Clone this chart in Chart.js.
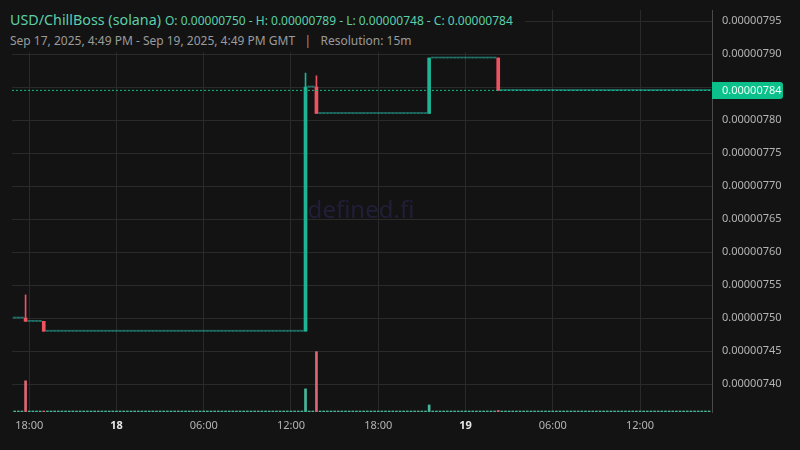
<!DOCTYPE html>
<html>
<head>
<meta charset="utf-8">
<script src="https://cdn.jsdelivr.net/npm/chart.js@4"></script>
<style>
  body { margin: 0; background: #131313; }
  #wrap { position: relative; width: 800px; height: 450px; }
  .head { position: absolute; left: 0; background: #131313; font-family: 'Noto Sans', sans-serif; white-space: nowrap; }
  #head1 { top: 8px; padding: 0 12px 0 10px; height: 23px; line-height: 23px; color: #5ccfa9; font-size: 14.3px; }
  #head1 .ohlc { font-size: 12px; margin-left: 4px; }
  #head2 { top: 31px; width: 520px; padding-left: 10px; height: 21px; line-height: 20px; color: #9b9b9b; font-size: 12px; }
</style>
</head>
<body>
<div id="wrap">
  <canvas id="chart" width="800" height="450"></canvas>
  <div class="head" id="head1">USD/ChillBoss (solana)<span class="ohlc" id="ohlc"></span></div>
  <div class="head" id="head2">Sep 17, 2025, 4:49 PM - Sep 19, 2025, 4:49 PM GMT &nbsp; | &nbsp; Resolution: 15m</div>
</div>
<script>
// 15m candles, Sep 17 17:00 -> Sep 19 16:45 GMT (x = minutes since Sep 17 00:00)
const firstCandle = 1020;
const candleStep = 15;
const rangeStart = 1009; // 16:49
const rangeEnd = 3889;   // 16:49 two days later
const rightGap = 8;      // small empty margin before the price axis

const opens = [
  7.50e-6, 7.50e-6, 7.50e-6, 7.50e-6, 7.495e-6, 7.495e-6, 7.495e-6, 7.495e-6, 7.495e-6, 7.48e-6, 7.48e-6, 7.48e-6, 7.48e-6, 7.48e-6, 7.48e-6, 7.48e-6,
  7.48e-6, 7.48e-6, 7.48e-6, 7.48e-6, 7.48e-6, 7.48e-6, 7.48e-6, 7.48e-6, 7.48e-6, 7.48e-6, 7.48e-6, 7.48e-6, 7.48e-6, 7.48e-6, 7.48e-6, 7.48e-6,
  7.48e-6, 7.48e-6, 7.48e-6, 7.48e-6, 7.48e-6, 7.48e-6, 7.48e-6, 7.48e-6, 7.48e-6, 7.48e-6, 7.48e-6, 7.48e-6, 7.48e-6, 7.48e-6, 7.48e-6, 7.48e-6,
  7.48e-6, 7.48e-6, 7.48e-6, 7.48e-6, 7.48e-6, 7.48e-6, 7.48e-6, 7.48e-6, 7.48e-6, 7.48e-6, 7.48e-6, 7.48e-6, 7.48e-6, 7.48e-6, 7.48e-6, 7.48e-6,
  7.48e-6, 7.48e-6, 7.48e-6, 7.48e-6, 7.48e-6, 7.48e-6, 7.48e-6, 7.48e-6, 7.48e-6, 7.48e-6, 7.48e-6, 7.48e-6, 7.48e-6, 7.48e-6, 7.48e-6, 7.48e-6,
  7.48e-6, 7.85e-6, 7.85e-6, 7.85e-6, 7.81e-6, 7.81e-6, 7.81e-6, 7.81e-6, 7.81e-6, 7.81e-6, 7.81e-6, 7.81e-6, 7.81e-6, 7.81e-6, 7.81e-6, 7.81e-6,
  7.81e-6, 7.81e-6, 7.81e-6, 7.81e-6, 7.81e-6, 7.81e-6, 7.81e-6, 7.81e-6, 7.81e-6, 7.81e-6, 7.81e-6, 7.81e-6, 7.81e-6, 7.81e-6, 7.81e-6, 7.81e-6,
  7.81e-6, 7.81e-6, 7.81e-6, 7.894e-6, 7.894e-6, 7.894e-6, 7.894e-6, 7.894e-6, 7.894e-6, 7.894e-6, 7.894e-6, 7.894e-6, 7.894e-6, 7.894e-6, 7.894e-6, 7.894e-6,
  7.894e-6, 7.894e-6, 7.894e-6, 7.894e-6, 7.894e-6, 7.894e-6, 7.8449e-6, 7.8449e-6, 7.8449e-6, 7.8449e-6, 7.8449e-6, 7.8449e-6, 7.8449e-6, 7.8449e-6, 7.8449e-6, 7.8449e-6,
  7.8449e-6, 7.8449e-6, 7.8449e-6, 7.8449e-6, 7.8449e-6, 7.8449e-6, 7.8449e-6, 7.8449e-6, 7.8449e-6, 7.8449e-6, 7.8449e-6, 7.8449e-6, 7.8449e-6, 7.8449e-6, 7.8449e-6, 7.8449e-6,
  7.8449e-6, 7.8449e-6, 7.8449e-6, 7.8449e-6, 7.8449e-6, 7.8449e-6, 7.8449e-6, 7.8449e-6, 7.8449e-6, 7.8449e-6, 7.8449e-6, 7.8449e-6, 7.8449e-6, 7.8449e-6, 7.8449e-6, 7.8449e-6,
  7.8449e-6, 7.8449e-6, 7.8449e-6, 7.8449e-6, 7.8449e-6, 7.8449e-6, 7.8449e-6, 7.8449e-6, 7.8449e-6, 7.8449e-6, 7.8449e-6, 7.8449e-6, 7.8449e-6, 7.8449e-6, 7.8449e-6, 7.8449e-6
];
const highs = [
  7.50e-6, 7.50e-6, 7.50e-6, 7.535e-6, 7.495e-6, 7.495e-6, 7.495e-6, 7.495e-6, 7.495e-6, 7.48e-6, 7.48e-6, 7.48e-6, 7.48e-6, 7.48e-6, 7.48e-6, 7.48e-6,
  7.48e-6, 7.48e-6, 7.48e-6, 7.48e-6, 7.48e-6, 7.48e-6, 7.48e-6, 7.48e-6, 7.48e-6, 7.48e-6, 7.48e-6, 7.48e-6, 7.48e-6, 7.48e-6, 7.48e-6, 7.48e-6,
  7.48e-6, 7.48e-6, 7.48e-6, 7.48e-6, 7.48e-6, 7.48e-6, 7.48e-6, 7.48e-6, 7.48e-6, 7.48e-6, 7.48e-6, 7.48e-6, 7.48e-6, 7.48e-6, 7.48e-6, 7.48e-6,
  7.48e-6, 7.48e-6, 7.48e-6, 7.48e-6, 7.48e-6, 7.48e-6, 7.48e-6, 7.48e-6, 7.48e-6, 7.48e-6, 7.48e-6, 7.48e-6, 7.48e-6, 7.48e-6, 7.48e-6, 7.48e-6,
  7.48e-6, 7.48e-6, 7.48e-6, 7.48e-6, 7.48e-6, 7.48e-6, 7.48e-6, 7.48e-6, 7.48e-6, 7.48e-6, 7.48e-6, 7.48e-6, 7.48e-6, 7.48e-6, 7.48e-6, 7.48e-6,
  7.871e-6, 7.85e-6, 7.85e-6, 7.867e-6, 7.81e-6, 7.81e-6, 7.81e-6, 7.81e-6, 7.81e-6, 7.81e-6, 7.81e-6, 7.81e-6, 7.81e-6, 7.81e-6, 7.81e-6, 7.81e-6,
  7.81e-6, 7.81e-6, 7.81e-6, 7.81e-6, 7.81e-6, 7.81e-6, 7.81e-6, 7.81e-6, 7.81e-6, 7.81e-6, 7.81e-6, 7.81e-6, 7.81e-6, 7.81e-6, 7.81e-6, 7.81e-6,
  7.81e-6, 7.81e-6, 7.894e-6, 7.894e-6, 7.894e-6, 7.894e-6, 7.894e-6, 7.894e-6, 7.894e-6, 7.894e-6, 7.894e-6, 7.894e-6, 7.894e-6, 7.894e-6, 7.894e-6, 7.894e-6,
  7.894e-6, 7.894e-6, 7.894e-6, 7.894e-6, 7.894e-6, 7.894e-6, 7.8449e-6, 7.8449e-6, 7.8449e-6, 7.8449e-6, 7.8449e-6, 7.8449e-6, 7.8449e-6, 7.8449e-6, 7.8449e-6, 7.8449e-6,
  7.8449e-6, 7.8449e-6, 7.8449e-6, 7.8449e-6, 7.8449e-6, 7.8449e-6, 7.8449e-6, 7.8449e-6, 7.8449e-6, 7.8449e-6, 7.8449e-6, 7.8449e-6, 7.8449e-6, 7.8449e-6, 7.8449e-6, 7.8449e-6,
  7.8449e-6, 7.8449e-6, 7.8449e-6, 7.8449e-6, 7.8449e-6, 7.8449e-6, 7.8449e-6, 7.8449e-6, 7.8449e-6, 7.8449e-6, 7.8449e-6, 7.8449e-6, 7.8449e-6, 7.8449e-6, 7.8449e-6, 7.8449e-6,
  7.8449e-6, 7.8449e-6, 7.8449e-6, 7.8449e-6, 7.8449e-6, 7.8449e-6, 7.8449e-6, 7.8449e-6, 7.8449e-6, 7.8449e-6, 7.8449e-6, 7.8449e-6, 7.8449e-6, 7.8449e-6, 7.8449e-6, 7.8449e-6
];
const lows = [
  7.50e-6, 7.50e-6, 7.50e-6, 7.495e-6, 7.495e-6, 7.495e-6, 7.495e-6, 7.495e-6, 7.48e-6, 7.48e-6, 7.48e-6, 7.48e-6, 7.48e-6, 7.48e-6, 7.48e-6, 7.48e-6,
  7.48e-6, 7.48e-6, 7.48e-6, 7.48e-6, 7.48e-6, 7.48e-6, 7.48e-6, 7.48e-6, 7.48e-6, 7.48e-6, 7.48e-6, 7.48e-6, 7.48e-6, 7.48e-6, 7.48e-6, 7.48e-6,
  7.48e-6, 7.48e-6, 7.48e-6, 7.48e-6, 7.48e-6, 7.48e-6, 7.48e-6, 7.48e-6, 7.48e-6, 7.48e-6, 7.48e-6, 7.48e-6, 7.48e-6, 7.48e-6, 7.48e-6, 7.48e-6,
  7.48e-6, 7.48e-6, 7.48e-6, 7.48e-6, 7.48e-6, 7.48e-6, 7.48e-6, 7.48e-6, 7.48e-6, 7.48e-6, 7.48e-6, 7.48e-6, 7.48e-6, 7.48e-6, 7.48e-6, 7.48e-6,
  7.48e-6, 7.48e-6, 7.48e-6, 7.48e-6, 7.48e-6, 7.48e-6, 7.48e-6, 7.48e-6, 7.48e-6, 7.48e-6, 7.48e-6, 7.48e-6, 7.48e-6, 7.48e-6, 7.48e-6, 7.48e-6,
  7.48e-6, 7.85e-6, 7.85e-6, 7.81e-6, 7.81e-6, 7.81e-6, 7.81e-6, 7.81e-6, 7.81e-6, 7.81e-6, 7.81e-6, 7.81e-6, 7.81e-6, 7.81e-6, 7.81e-6, 7.81e-6,
  7.81e-6, 7.81e-6, 7.81e-6, 7.81e-6, 7.81e-6, 7.81e-6, 7.81e-6, 7.81e-6, 7.81e-6, 7.81e-6, 7.81e-6, 7.81e-6, 7.81e-6, 7.81e-6, 7.81e-6, 7.81e-6,
  7.81e-6, 7.81e-6, 7.81e-6, 7.894e-6, 7.894e-6, 7.894e-6, 7.894e-6, 7.894e-6, 7.894e-6, 7.894e-6, 7.894e-6, 7.894e-6, 7.894e-6, 7.894e-6, 7.894e-6, 7.894e-6,
  7.894e-6, 7.894e-6, 7.894e-6, 7.894e-6, 7.894e-6, 7.8449e-6, 7.8449e-6, 7.8449e-6, 7.8449e-6, 7.8449e-6, 7.8449e-6, 7.8449e-6, 7.8449e-6, 7.8449e-6, 7.8449e-6, 7.8449e-6,
  7.8449e-6, 7.8449e-6, 7.8449e-6, 7.8449e-6, 7.8449e-6, 7.8449e-6, 7.8449e-6, 7.8449e-6, 7.8449e-6, 7.8449e-6, 7.8449e-6, 7.8449e-6, 7.8449e-6, 7.8449e-6, 7.8449e-6, 7.8449e-6,
  7.8449e-6, 7.8449e-6, 7.8449e-6, 7.8449e-6, 7.8449e-6, 7.8449e-6, 7.8449e-6, 7.8449e-6, 7.8449e-6, 7.8449e-6, 7.8449e-6, 7.8449e-6, 7.8449e-6, 7.8449e-6, 7.8449e-6, 7.8449e-6,
  7.8449e-6, 7.8449e-6, 7.8449e-6, 7.8449e-6, 7.8449e-6, 7.8449e-6, 7.8449e-6, 7.8449e-6, 7.8449e-6, 7.8449e-6, 7.8449e-6, 7.8449e-6, 7.8449e-6, 7.8449e-6, 7.8449e-6, 7.8449e-6
];
const closes = [
  7.50e-6, 7.50e-6, 7.50e-6, 7.495e-6, 7.495e-6, 7.495e-6, 7.495e-6, 7.495e-6, 7.48e-6, 7.48e-6, 7.48e-6, 7.48e-6, 7.48e-6, 7.48e-6, 7.48e-6, 7.48e-6,
  7.48e-6, 7.48e-6, 7.48e-6, 7.48e-6, 7.48e-6, 7.48e-6, 7.48e-6, 7.48e-6, 7.48e-6, 7.48e-6, 7.48e-6, 7.48e-6, 7.48e-6, 7.48e-6, 7.48e-6, 7.48e-6,
  7.48e-6, 7.48e-6, 7.48e-6, 7.48e-6, 7.48e-6, 7.48e-6, 7.48e-6, 7.48e-6, 7.48e-6, 7.48e-6, 7.48e-6, 7.48e-6, 7.48e-6, 7.48e-6, 7.48e-6, 7.48e-6,
  7.48e-6, 7.48e-6, 7.48e-6, 7.48e-6, 7.48e-6, 7.48e-6, 7.48e-6, 7.48e-6, 7.48e-6, 7.48e-6, 7.48e-6, 7.48e-6, 7.48e-6, 7.48e-6, 7.48e-6, 7.48e-6,
  7.48e-6, 7.48e-6, 7.48e-6, 7.48e-6, 7.48e-6, 7.48e-6, 7.48e-6, 7.48e-6, 7.48e-6, 7.48e-6, 7.48e-6, 7.48e-6, 7.48e-6, 7.48e-6, 7.48e-6, 7.48e-6,
  7.85e-6, 7.85e-6, 7.85e-6, 7.81e-6, 7.81e-6, 7.81e-6, 7.81e-6, 7.81e-6, 7.81e-6, 7.81e-6, 7.81e-6, 7.81e-6, 7.81e-6, 7.81e-6, 7.81e-6, 7.81e-6,
  7.81e-6, 7.81e-6, 7.81e-6, 7.81e-6, 7.81e-6, 7.81e-6, 7.81e-6, 7.81e-6, 7.81e-6, 7.81e-6, 7.81e-6, 7.81e-6, 7.81e-6, 7.81e-6, 7.81e-6, 7.81e-6,
  7.81e-6, 7.81e-6, 7.894e-6, 7.894e-6, 7.894e-6, 7.894e-6, 7.894e-6, 7.894e-6, 7.894e-6, 7.894e-6, 7.894e-6, 7.894e-6, 7.894e-6, 7.894e-6, 7.894e-6, 7.894e-6,
  7.894e-6, 7.894e-6, 7.894e-6, 7.894e-6, 7.894e-6, 7.8449e-6, 7.8449e-6, 7.8449e-6, 7.8449e-6, 7.8449e-6, 7.8449e-6, 7.8449e-6, 7.8449e-6, 7.8449e-6, 7.8449e-6, 7.8449e-6,
  7.8449e-6, 7.8449e-6, 7.8449e-6, 7.8449e-6, 7.8449e-6, 7.8449e-6, 7.8449e-6, 7.8449e-6, 7.8449e-6, 7.8449e-6, 7.8449e-6, 7.8449e-6, 7.8449e-6, 7.8449e-6, 7.8449e-6, 7.8449e-6,
  7.8449e-6, 7.8449e-6, 7.8449e-6, 7.8449e-6, 7.8449e-6, 7.8449e-6, 7.8449e-6, 7.8449e-6, 7.8449e-6, 7.8449e-6, 7.8449e-6, 7.8449e-6, 7.8449e-6, 7.8449e-6, 7.8449e-6, 7.8449e-6,
  7.8449e-6, 7.8449e-6, 7.8449e-6, 7.8449e-6, 7.8449e-6, 7.8449e-6, 7.8449e-6, 7.8449e-6, 7.8449e-6, 7.8449e-6, 7.8449e-6, 7.8449e-6, 7.8449e-6, 7.8449e-6, 7.8449e-6, 7.8449e-6
];
const volumes = [
  1, 1, 1, 310, 1, 1, 1, 1, 5, 1, 1, 1, 1, 1, 1, 1,
  1, 1, 1, 1, 1, 1, 1, 1, 1, 1, 1, 1, 1, 1, 1, 1,
  1, 1, 1, 1, 1, 1, 1, 1, 1, 1, 1, 1, 1, 1, 1, 1,
  1, 1, 1, 1, 1, 1, 1, 1, 1, 1, 1, 1, 1, 1, 1, 1,
  1, 1, 1, 1, 1, 1, 1, 1, 1, 1, 1, 1, 1, 1, 1, 1,
  230, 1, 1, 600, 1, 1, 1, 1, 1, 1, 1, 1, 1, 1, 1, 1,
  1, 1, 1, 1, 1, 1, 1, 1, 1, 1, 1, 1, 1, 1, 1, 1,
  1, 1, 70, 1, 1, 1, 1, 1, 1, 1, 1, 1, 1, 1, 1, 1,
  1, 1, 1, 1, 1, 15, 1, 1, 1, 1, 1, 1, 1, 1, 1, 1,
  1, 1, 1, 1, 1, 1, 1, 1, 1, 1, 1, 1, 1, 1, 1, 1,
  1, 1, 1, 1, 1, 1, 1, 1, 1, 1, 1, 1, 1, 1, 1, 1,
  1, 1, 1, 1, 1, 1, 1, 1, 1, 1, 1, 1, 1, 1, 1, 1
];

const priceTicks = [0.00000740, 0.00000745, 0.00000750, 0.00000755, 0.00000760, 0.00000765,
  0.00000770, 0.00000775, 0.00000780, 0.00000785, 0.00000790, 0.00000795];
const timeTicks = [1080, 1440, 1800, 2160, 2520, 2880, 3240, 3600];
const timeLabels = ['18:00', '18', '06:00', '12:00', '18:00', '19', '06:00', '12:00'];
const dayTicks = ['18', '19'];

const upColor = '#1db394';
const downColor = '#ef5261';
const flatColor = 'rgba(38, 166, 154, 0.6)';
const lastClose = closes[closes.length - 1];

document.getElementById('ohlc').textContent =
  'O: ' + opens[0].toFixed(8) + ' - H: ' + Math.max(...highs).toFixed(8) +
  ' - L: ' + Math.min(...lows).toFixed(8) + ' - C: ' + lastClose.toFixed(8);

const candleX = closes.map((c, i) => firstCandle + i * candleStep);
const candleColors = closes.map((c, i) => c > opens[i] ? upColor : (c < opens[i] ? downColor : flatColor));
const volColors = closes.map((c, i) => c >= opens[i] ? 'rgba(79, 202, 169, 0.9)' : 'rgba(233, 106, 122, 0.95)');

function isDay(ctx) {
  return !!(ctx && ctx.tick && dayTicks.includes(ctx.tick.label));
}

// watermark + last price tag
const extras = {
  id: 'extras',
  beforeDatasetsDraw(chart) {
    const c = chart.ctx;
    c.save();
    c.font = '24px "Noto Sans"';
    c.fillStyle = '#211e38';
    c.textAlign = 'center';
    c.textBaseline = 'middle';
    c.fillText('defined.fi', 361, (chart.chartArea.top + chart.chartArea.bottom) / 2);
    c.restore();
  },
  afterDraw(chart) {
    const c = chart.ctx;
    const y = chart.scales.y.getPixelForValue(lastClose);
    const x = chart.chartArea.right;
    c.save();
    c.fillStyle = '#0bc08a';
    c.beginPath();
    c.roundRect(x, y - 8.5, 71, 17, [0, 3, 3, 0]);
    c.fill();
    c.font = '11px "Noto Sans"';
    c.fillStyle = '#eafff7';
    c.textBaseline = 'middle';
    c.fillText(lastClose.toFixed(8), x + 10, y);
    c.restore();
  }
};

new Chart(document.getElementById('chart'), {
  type: 'bar',
  data: {
    datasets: [
      {
        type: 'line',
        data: [{ x: rangeStart, y: lastClose }, { x: rangeEnd + rightGap, y: lastClose }],
        borderColor: '#0bc08a',
        borderWidth: 1,
        borderDash: [2, 2],
        pointRadius: 0,
        yAxisID: 'y',
        order: 0
      },
      {
        data: candleX.map((x, i) => ({ x: x, y: [opens[i], closes[i]] })),
        backgroundColor: candleColors,
        barThickness: 3,
        minBarLength: 1,
        grouped: false,
        yAxisID: 'y',
        order: 1
      },
      {
        data: candleX.map((x, i) => ({ x: x, y: [lows[i], highs[i]] })),
        backgroundColor: candleColors,
        barThickness: 1,
        grouped: false,
        yAxisID: 'y',
        order: 2
      },
      {
        data: candleX.map((x, i) => ({ x: x, y: volumes[i] })),
        backgroundColor: volColors,
        barThickness: 2,
        minBarLength: 1,
        grouped: false,
        yAxisID: 'v',
        order: 3
      }
    ]
  },
  options: {
    responsive: false,
    animation: false,
    layout: { padding: { top: 10, left: 12, right: 0, bottom: 0 } },
    plugins: { legend: { display: false }, tooltip: { enabled: false } },
    scales: {
      x: {
        type: 'linear',
        min: rangeStart,
        max: rangeEnd + rightGap,
        offset: false,
        grid: { color: '#2a2a2a', drawTicks: false, offset: false },
        border: { display: false },
        afterBuildTicks: function (scale) {
          scale.ticks = timeTicks.map(v => ({ value: v }));
        },
        afterFit: function (scale) { scale.height = 38; scale.paddingLeft = 0; scale.paddingRight = 0; },
        ticks: {
          padding: 7,
          maxRotation: 0,
          autoSkip: false,
          callback: function (value) { return timeLabels[timeTicks.indexOf(value)]; },
          color: ctx => isDay(ctx) ? '#e6e6e6' : '#b4b4b4',
          font: ctx => ({ family: 'Noto Sans', size: 11, weight: isDay(ctx) ? 'bold' : 'normal' })
        }
      },
      y: {
        position: 'right',
        min: 7.3576e-6,
        max: 7.9667e-6,
        grid: { color: '#2a2a2a', drawTicks: false },
        border: { display: true, color: '#4a4a4a' },
        afterBuildTicks: function (scale) {
          scale.ticks = priceTicks.map(v => ({ value: v }));
        },
        afterFit: function (scale) { scale.width = 88; scale.paddingTop = 0; scale.paddingBottom = 0; },
        ticks: {
          padding: 10,
          color: '#b4b4b4',
          font: { family: 'Noto Sans', size: 11 },
          callback: v => v.toFixed(8)
        }
      },
      v: { display: false, min: 0, max: 4000 }
    }
  },
  plugins: [extras]
});
</script>
</body>
</html>
